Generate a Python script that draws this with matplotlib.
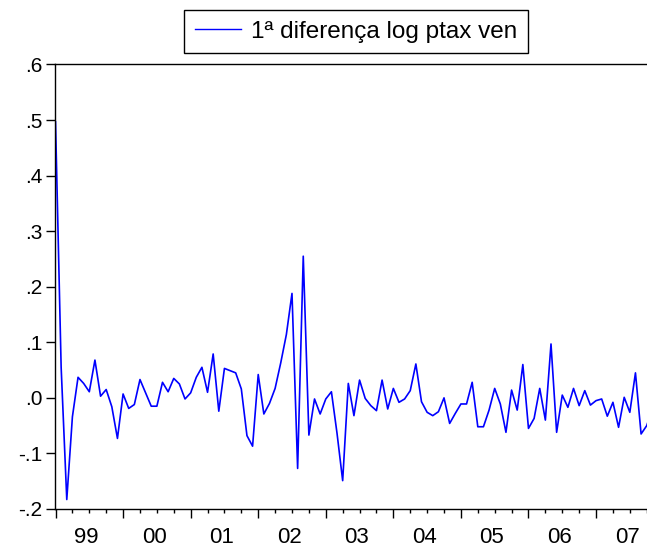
import numpy as np
import matplotlib
matplotlib.use("Agg")
import matplotlib.pyplot as plt
from matplotlib.ticker import FixedLocator, FuncFormatter

plt.rcParams['font.family'] = ['Liberation Sans', 'DejaVu Sans']

# primeira diferença do log da ptax (venda), mensal a partir de 1999M01
dlog_ptax = [
    0.497, 0.055, -0.183, -0.034, 0.037, 0.026, 0.011, 0.068, 0.003, 0.015, -0.016, -0.073,   # 1999
    0.007, -0.019, -0.012, 0.033, 0.009, -0.015, -0.015, 0.028, 0.011, 0.035, 0.025, -0.002,  # 2000
    0.009, 0.037, 0.055, 0.010, 0.079, -0.024, 0.053, 0.049, 0.045, 0.016, -0.068, -0.087,    # 2001
    0.042, -0.029, -0.010, 0.017, 0.063, 0.114, 0.188, -0.127, 0.255, -0.067, -0.002, -0.029, # 2002
    -0.002, 0.011, -0.064, -0.149, 0.026, -0.032, 0.032, -0.001, -0.014, -0.023, 0.032, -0.020,  # 2003
    0.017, -0.008, -0.002, 0.013, 0.061, -0.007, -0.026, -0.032, -0.025, 0.000, -0.046, -0.028,  # 2004
    -0.011, -0.011, 0.028, -0.052, -0.052, -0.022, 0.017, -0.011, -0.062, 0.014, -0.022, 0.060,  # 2005
    -0.055, -0.037, 0.017, -0.040, 0.097, -0.062, 0.005, -0.017, 0.017, -0.014, 0.013, -0.013,   # 2006
    -0.005, -0.002, -0.033, -0.008, -0.053, 0.001, -0.026, 0.045, -0.065, -0.050, -0.020,        # 2007
]
year_labels = ['99', '00', '01', '02', '03', '04', '05', '06', '07']
serie_nome = '1ª diferença log ptax ven'

meses = np.arange(len(dlog_ptax))

fig = plt.figure(figsize=(6.47, 5.48), dpi=100)
ax = fig.add_axes([0.0845, 0.0712, 0.9155, 0.8111])

linha, = ax.plot(meses, dlog_ptax, color='#0000FF', lw=1.2)

ax.set_xlim(-0.15, 105.05)
ax.set_ylim(-0.2, 0.6)

# ── eixo y: rótulos estilo EViews (.6, .5, ... -.2) ─────────────
ax.yaxis.set_major_locator(FixedLocator(np.round(np.arange(-0.2, 0.61, 0.1), 1)))


def fmt_y(v, pos):
    s = f'{round(v, 1):.1f}'
    return s.replace('-0.', '-.').replace('0.', '.')


ax.yaxis.set_major_formatter(FuncFormatter(fmt_y))
ax.tick_params(axis='y', direction='out', length=6.5, width=1.0, pad=2.5,
               labelsize=15, color='black')

# ── eixo x: anos (major) e trimestres (minor) ──────────────────
ax.xaxis.set_major_locator(FixedLocator(np.arange(0, 12 * len(year_labels) + 1, 12)))
ax.xaxis.set_minor_locator(FixedLocator(np.arange(0, 12 * len(year_labels) + 1, 3)))
ax.tick_params(axis='x', which='major', direction='out', length=6.8, width=1.0,
               labelbottom=False)
ax.tick_params(axis='x', which='minor', direction='out', length=3.2, width=1.0)

# rótulos dos anos centrados no meio de cada ano (linha de base perto da borda)
for k, lbl in enumerate(year_labels):
    ax.annotate(lbl, xy=(12 * k + 5.5, 0), xycoords=('data', 'axes fraction'),
                xytext=(0, -24.5), textcoords='offset points',
                ha='center', va='baseline', fontsize=16, annotation_clip=False)

for s in ['left', 'bottom', 'top']:
    ax.spines[s].set_linewidth(1.0)
ax.spines['right'].set_visible(False)

leg = fig.legend([linha], [serie_nome], loc='center',
                 bbox_to_anchor=(0.550, 0.9425), fontsize=17.5,
                 frameon=True, fancybox=False, framealpha=1,
                 edgecolor='black', handlelength=1.9, handletextpad=0.4,
                 borderpad=0.45, borderaxespad=0)
leg.get_frame().set_linewidth(1.0)
leg.get_lines()[0].set_linewidth(1.0)

fig.savefig('out.png', dpi=100)
